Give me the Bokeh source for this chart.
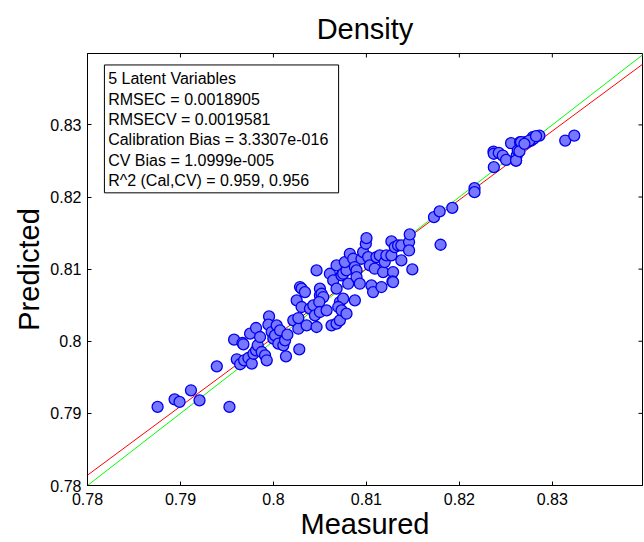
import numpy as np
from bokeh.plotting import figure
from bokeh.models import FixedTicker, BoxAnnotation, Label, Range1d, LinearAxis
from bokeh.embed import file_html
from bokeh.resources import INLINE

# ---- data ----
measured = [
    0.78754, 0.78937, 0.78990, 0.79113, 0.79205, 0.79527, 0.79391,
    0.79577, 0.79667, 0.79677, 0.79606, 0.79642, 0.79685, 0.79731, 0.79767, 0.79785, 0.79813,
    0.79831, 0.79749, 0.79813, 0.79856, 0.79874, 0.79910, 0.79928, 0.79953, 0.79946, 0.79981,
    0.79999, 0.80017, 0.80035, 0.80053, 0.80071, 0.80107, 0.80125, 0.80135, 0.80150, 0.80214,
    0.80268, 0.80278, 0.80268, 0.80286, 0.80303, 0.80339, 0.80250, 0.80303, 0.80357, 0.80393,
    0.80429, 0.80464, 0.80446, 0.80464, 0.80500, 0.80500, 0.80518, 0.80536, 0.80493, 0.80500,
    0.80572, 0.80607, 0.80643, 0.80625, 0.80679, 0.80715, 0.80715, 0.80750, 0.80697, 0.80733,
    0.80786, 0.80679, 0.80679, 0.80733, 0.80750, 0.80786, 0.80804, 0.80768, 0.80822, 0.80858,
    0.80876, 0.80894, 0.80894, 0.80929, 0.80876, 0.80947, 0.80965, 0.80994, 0.81001, 0.81019,
    0.81037, 0.81054, 0.81072, 0.81090, 0.81108, 0.81144, 0.81162, 0.81180, 0.81197, 0.81215,
    0.81269, 0.81287, 0.81280, 0.81269, 0.81305, 0.81341, 0.81376, 0.81376, 0.81459, 0.81466,
    0.81459, 0.81494, 0.81287, 0.81798,
    0.81727, 0.81788, 0.81924, 0.82163, 0.82163, 0.82371, 0.82367, 0.82370, 0.82424, 0.82467,
    0.82503, 0.82556, 0.82610, 0.82617, 0.82628, 0.82653, 0.82710, 0.82730, 0.82771, 0.82789,
    0.82800, 0.82861, 0.83139, 0.83236, 0.82610, 0.82664, 0.82753, 0.82825, 0.82646, 0.82700,
]
predicted = [
    0.79090, 0.79195, 0.79159, 0.79320, 0.79181, 0.79090, 0.79652,
    0.80022, 0.79976, 0.79958, 0.79750, 0.79681, 0.79736, 0.79768, 0.79690, 0.79827, 0.79874,
    0.79944, 0.80105, 0.80184, 0.80059, 0.79851, 0.79805, 0.79736, 0.80345, 0.80230, 0.80128,
    0.80036, 0.80082, 0.80221, 0.79967, 0.80151, 0.79944, 0.80013, 0.79791, 0.80091, 0.80290,
    0.80174, 0.79888, 0.80322, 0.80752, 0.80729, 0.80682, 0.80567, 0.80475, 0.80221, 0.80452,
    0.80498, 0.80198, 0.80359, 0.80982, 0.80729, 0.80636, 0.80659, 0.80613, 0.80544, 0.80406,
    0.80429, 0.80936, 0.80844, 0.80221, 0.80244, 0.80290, 0.80544, 0.80590, 0.80475, 0.80429,
    0.80382, 0.81052, 0.80729, 0.80913, 0.80936, 0.80982, 0.80798, 0.81098, 0.81213, 0.81144,
    0.81029, 0.80982, 0.80890, 0.80798, 0.80567, 0.81144, 0.81236, 0.81352, 0.81430, 0.81167,
    0.81052, 0.80775, 0.80682, 0.81006, 0.81167, 0.81190, 0.80752, 0.80959, 0.81098, 0.81190,
    0.81190, 0.80959, 0.80830, 0.81384, 0.81306, 0.81329, 0.81329, 0.81121, 0.81375, 0.81481,
    0.81259, 0.80996, 0.80821, 0.81338,
    0.81721, 0.81800, 0.81850, 0.82123, 0.82067, 0.82414, 0.82630, 0.82600, 0.82612, 0.82575,
    0.82515, 0.82746, 0.82506, 0.82575, 0.82645, 0.82760, 0.82760, 0.82760, 0.82783, 0.82829,
    0.82810, 0.82852, 0.82783, 0.82852, 0.82506, 0.82761, 0.82783, 0.82843, 0.82632, 0.82737,
]

fit_slope = 0.9543
fit_intercept = 0.03708
line_x = [0.78, 0.84]

x_ticks = [0.78, 0.79, 0.80, 0.81, 0.82, 0.83]
x_tick_labels = ["0.78", "0.79", "0.8", "0.81", "0.82", "0.83"]
y_ticks = [0.78, 0.79, 0.80, 0.81, 0.82, 0.83]
y_tick_labels = ["0.78", "0.79", "0.8", "0.81", "0.82", "0.83"]

stats_lines = [
    "5 Latent Variables",
    "RMSEC = 0.0018905",
    "RMSECV = 0.0019581",
    "Calibration Bias = 3.3307e-016",
    "CV Bias = 1.0999e-005",
    "R^2 (Cal,CV) = 0.959, 0.956",
]

FONT = "Liberation Sans"
X_END = 0.8397
Y_END = 0.8399

p = figure(width=644, height=542, output_backend="svg", toolbar_location=None,
           x_range=Range1d(0.78, X_END), y_range=Range1d(0.78, Y_END),
           x_axis_label="Measured", y_axis_label="Predicted",
           min_border_left=87, min_border_top=53, min_border_bottom=55, min_border_right=2)

p.background_fill_color = "white"
p.border_fill_color = "white"
p.outline_line_color = "black"
p.outline_line_width = 1
p.xgrid.visible = False
p.ygrid.visible = False

def style_axis(ax, ticks, labels):
    ax.ticker = FixedTicker(ticks=ticks)
    ax.major_label_overrides = {t: l for t, l in zip(ticks, labels)}
    ax.major_tick_in = 4
    ax.major_tick_out = 0
    ax.minor_tick_line_color = None
    ax.axis_line_color = "black"
    ax.major_tick_line_color = "black"
    ax.major_label_text_font = FONT
    ax.major_label_text_color = "black"
    ax.major_label_text_font_size = "16px"
    ax.major_label_standoff = 7
    ax.axis_label_text_font = FONT
    ax.axis_label_text_font_style = "normal"
    ax.axis_label_text_font_size = "29px"
    ax.axis_label_text_color = "black"
    ax.axis_label_standoff = 0

style_axis(p.xaxis[0], x_ticks, x_tick_labels)
style_axis(p.yaxis[0], y_ticks, y_tick_labels)
p.yaxis[0].major_label_standoff = 6
p.yaxis[0].axis_label_standoff = 2

# chart title, carried by a tick-less axis along the top edge
title_axis = LinearAxis(ticker=FixedTicker(ticks=[]), axis_label="Density")
title_axis.axis_line_color = None
title_axis.major_tick_line_color = None
title_axis.minor_tick_line_color = None
title_axis.axis_label_text_font = FONT
title_axis.axis_label_text_font_style = "normal"
title_axis.axis_label_text_font_size = "29px"
title_axis.axis_label_text_color = "black"
title_axis.axis_label_standoff = 9
p.add_layout(title_axis, "above")

# inward tick marks on the top and right edges of the box
p.scatter(x_ticks, [Y_END] * len(x_ticks), marker="dash", angle=np.pi / 2,
          size=8, line_color="black", line_width=1)
p.scatter([X_END] * len(y_ticks), y_ticks, marker="dash",
          size=8, line_color="black", line_width=1)

lx = np.array(line_x)
p.line(lx, lx, line_color="#00ff00", line_width=1)
p.line(lx, fit_slope * lx + fit_intercept, line_color="#ff0000", line_width=1)

p.scatter(measured, predicted, size=11, marker="circle",
          fill_color="#7777ff", line_color="#0000ee", line_width=1.3)

# statistics box
p.add_layout(BoxAnnotation(left=0.78182, right=0.80701, bottom=0.82058, top=0.83831,
                           fill_color="white", fill_alpha=1.0,
                           line_color="black", line_width=1, line_alpha=1.0))
line_y = [0.83637, 0.83356, 0.83073, 0.82792, 0.82506, 0.82229]
for txt, yy in zip(stats_lines, line_y):
    p.add_layout(Label(x=0.78222, y=yy, text=txt, text_font=FONT, text_font_size="16px",
                       text_baseline="middle", text_align="left", text_color="black"))

open("out.html", "w").write(file_html(p, INLINE))
